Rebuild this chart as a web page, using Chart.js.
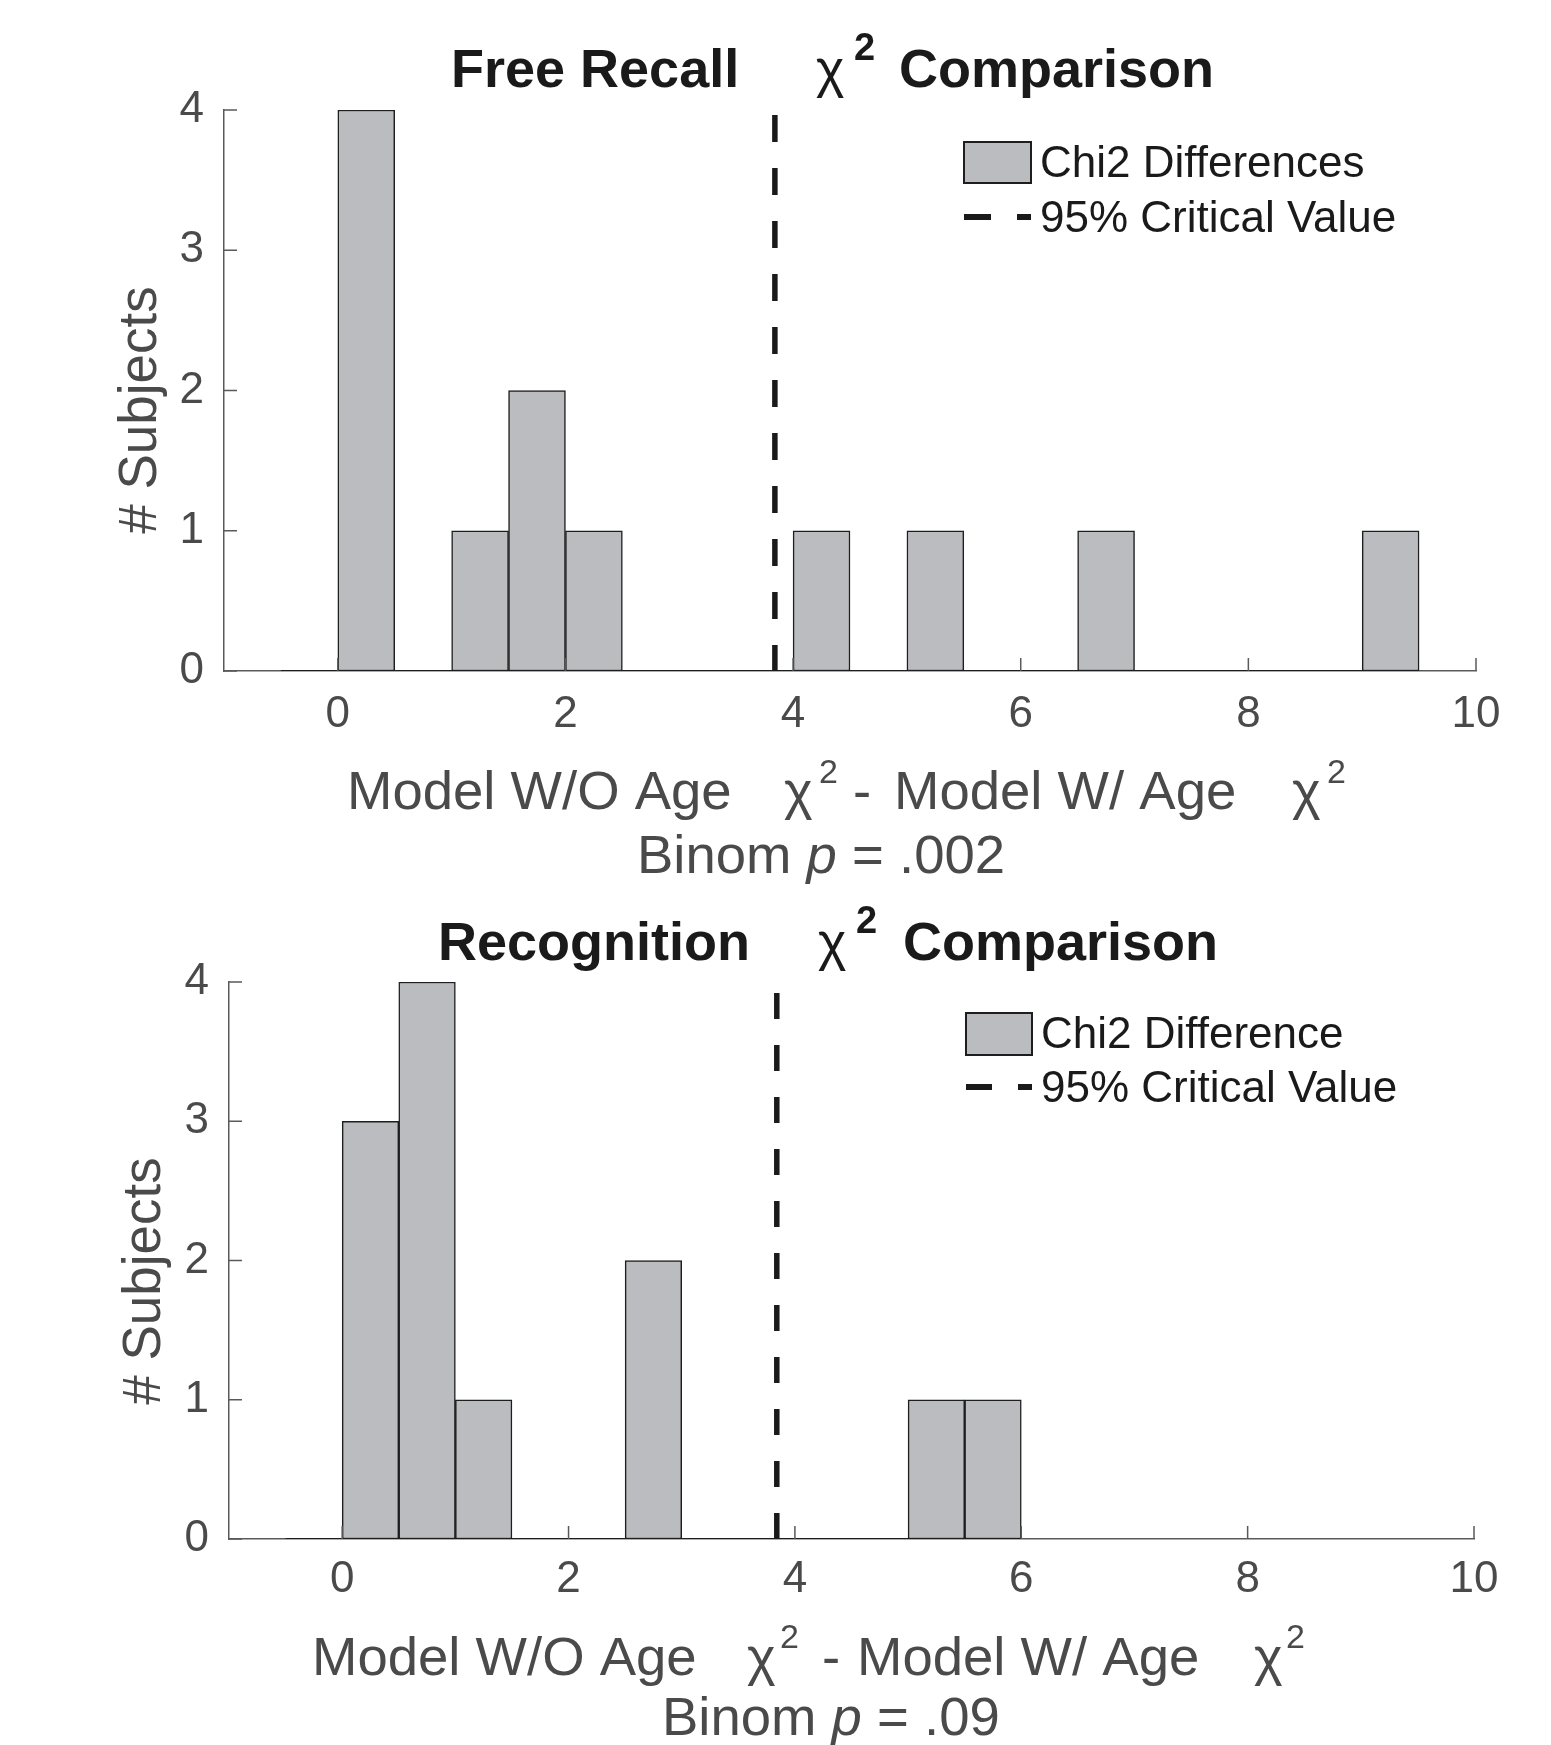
<!DOCTYPE html>
<html>
<head>
<meta charset="utf-8">
<script src="https://cdn.jsdelivr.net/npm/chart.js@4.4.0/dist/chart.umd.min.js"></script>
<style>
    body { margin: 0; background: #fff; }
    canvas { display: block; }
</style>
</head>
<body>
<canvas id="recallChart" width="1551" height="900"></canvas>
<canvas id="recognitionChart" width="1551" height="845"></canvas>
<script>
// Histogram data, bins are 0.5 wide
const binWidth = 0.5;
const recallBins = [-0.25, 0.25, 0.75, 1.25, 1.75, 2.25, 2.75, 3.25, 3.75, 4.25, 4.75, 5.25, 5.75, 6.25, 6.75, 7.25, 7.75, 8.25, 8.75, 9.25];
const recallCounts = [0, 4, 0, 1, 2, 1, 0, 0, 0, 1, 0, 1, 0, 0, 1, 0, 0, 0, 0, 1];
const recognitionBins = [-0.25, 0.25, 0.75, 1.25, 1.75, 2.25, 2.75, 3.25, 3.75, 4.25, 4.75, 5.25, 5.75];
const recognitionCounts = [0, 3, 4, 1, 0, 0, 2, 0, 0, 0, 0, 1, 1];
const criticalValue = 3.84;
const xTickValues = [0, 2, 4, 6, 8, 10];
const yTickValues = [0, 1, 2, 3, 4];
const xRange = [-1, 10];
const yRange = [0, 4];

const FONT = "'Liberation Sans', Arial, Helvetica, sans-serif";
const barFill = '#bbbcc0';
const barEdge = '#1e1e1e';
const axisGray = '#5a5a5a';
const labelGray = '#4a4a4a';
const ink = '#1a1a1a';

Chart.defaults.font.family = FONT;

function font(size, style) {
    return (style ? style + ' ' : '') + size + 'px ' + FONT;
}

// draws a list of text pieces; x < 0 means "continue after previous piece"
function drawRuns(ctx, runs, color) {
    let cursor = 0;
    runs.forEach(r => {
        ctx.font = r.f;
        ctx.fillStyle = color;
        ctx.textAlign = 'left';
        ctx.textBaseline = 'alphabetic';
        const x = r.x >= 0 ? r.x : cursor;
        ctx.fillText(r.t, x, r.y);
        cursor = x + ctx.measureText(r.t).width;
    });
}

function figurePlugin(layout) {
    return {
        id: 'figureText',
        afterDatasetsDraw(chart) {
            // inward tick marks like MATLAB
            const { ctx, chartArea: a, scales: { x, y } } = chart;
            ctx.save();
            ctx.strokeStyle = axisGray;
            ctx.lineWidth = 1.5;
            ctx.beginPath();
            x.ticks.forEach(t => {
                const px = x.getPixelForValue(t.value);
                ctx.moveTo(px, a.bottom);
                ctx.lineTo(px, a.bottom - 13);
            });
            y.ticks.forEach(t => {
                const py = y.getPixelForValue(t.value);
                ctx.moveTo(a.left, py);
                ctx.lineTo(a.left + 13, py);
            });
            ctx.stroke();
            ctx.restore();
        },
        afterDraw(chart) {
            const ctx = chart.ctx;
            const bars = chart.data.datasets[0];
            const crit = chart.data.datasets[2];
            ctx.save();

            // title
            drawRuns(ctx, layout.title, ink);

            // legend
            const lg = layout.legend;
            ctx.fillStyle = bars.backgroundColor;
            ctx.fillRect(lg.x, lg.top, lg.w, lg.h);
            ctx.strokeStyle = barEdge;
            ctx.lineWidth = 2;
            ctx.strokeRect(lg.x, lg.top, lg.w, lg.h);
            ctx.beginPath();
            ctx.setLineDash(crit.borderDash);
            ctx.lineWidth = 6;
            ctx.strokeStyle = crit.borderColor;
            ctx.moveTo(lg.x, lg.dashY);
            ctx.lineTo(lg.x + lg.w, lg.dashY);
            ctx.stroke();
            ctx.setLineDash([]);
            drawRuns(ctx, [
                { t: bars.label, x: lg.textX, y: lg.y1, f: font(44) },
                { t: crit.label, x: lg.textX, y: lg.y2, f: font(44) }
            ], ink);

            // x axis title and binomial line
            drawRuns(ctx, layout.xTitle, labelGray);
            drawRuns(ctx, layout.binom, labelGray);

            // y axis title
            ctx.translate(layout.yTitle.x, layout.yTitle.y);
            ctx.rotate(-Math.PI / 2);
            ctx.font = font(53);
            ctx.fillStyle = labelGray;
            ctx.textAlign = 'center';
            ctx.textBaseline = 'middle';
            ctx.fillText('# Subjects', 0, 0);
            ctx.restore();
        }
    };
}

function makeHistogram(canvasId, bins, counts, legendLabel, layout) {
    const ctx = document.getElementById(canvasId).getContext('2d');
    const canvas = ctx.canvas;
    const firstEdge = bins[0] - binWidth / 2;
    const lastEdge = bins[bins.length - 1] + binWidth / 2;

    return new Chart(ctx, {
        type: 'bar',
        data: {
            datasets: [
                {
                    type: 'bar',
                    label: legendLabel,
                    data: bins.map((b, i) => ({ x: b, y: counts[i] })),
                    backgroundColor: barFill,
                    borderColor: barEdge,
                    borderWidth: 1.5,
                    borderSkipped: false,
                    barPercentage: 1,
                    categoryPercentage: 1,
                    order: 2
                },
                {
                    type: 'line',
                    label: 'baseline',
                    data: [{ x: firstEdge, y: 0 }, { x: lastEdge, y: 0 }],
                    borderColor: barEdge,
                    borderWidth: 2,
                    pointRadius: 0,
                    order: 1
                },
                {
                    type: 'line',
                    label: '95% Critical Value',
                    data: [{ x: criticalValue, y: yRange[1] }, { x: criticalValue, y: yRange[0] }],
                    borderColor: ink,
                    borderWidth: 5.5,
                    borderDash: layout.dash,
                    borderDashOffset: layout.dashOffset,
                    pointRadius: 0,
                    order: 0
                }
            ]
        },
        options: {
            responsive: false,
            animation: false,
            events: [],
            devicePixelRatio: 1,
            layout: {
                padding: { left: 0, top: layout.area.top, right: canvas.width - layout.area.right, bottom: 0 }
            },
            plugins: {
                legend: { display: false },
                tooltip: { enabled: false },
                title: { display: false }
            },
            scales: {
                x: {
                    type: 'linear',
                    min: xRange[0],
                    max: xRange[1],
                    offset: false,
                    grid: { display: false, drawTicks: false },
                    border: { display: true, color: axisGray, width: 1.5 },
                    ticks: {
                        color: labelGray,
                        font: { size: 44 },
                        padding: layout.xTickPad,
                        maxRotation: 0,
                        autoSkip: false
                    },
                    afterBuildTicks: s => { s.ticks = xTickValues.map(v => ({ value: v })); },
                    afterFit: s => { s.height = canvas.height - layout.area.bottom; }
                },
                y: {
                    min: yRange[0],
                    max: yRange[1],
                    grid: { display: false, drawTicks: false },
                    border: { display: true, color: axisGray, width: 1.5 },
                    ticks: {
                        color: labelGray,
                        font: { size: 44 },
                        padding: 20
                    },
                    afterBuildTicks: s => { s.ticks = yTickValues.map(v => ({ value: v })); },
                    afterFit: s => { s.width = layout.area.left; }
                }
            }
        },
        plugins: [figurePlugin(layout)]
    });
}

const recallLayout = {
    area: { left: 224, right: 1476, top: 110, bottom: 671 },
    xTickPad: 17,
    dash: [27, 26],
    dashOffset: 48,
    title: [
        { t: 'Free Recall', x: 451, y: 87, f: font(54, 'bold') },
        { t: 'χ', x: 816, y: 87, f: font(54) },
        { t: '2', x: 854, y: 60, f: font(38, 'bold') },
        { t: 'Comparison', x: 899, y: 87, f: font(54, 'bold') }
    ],
    legend: { x: 964, top: 142, w: 67, h: 41, textX: 1040, y1: 177, dashY: 217, y2: 232 },
    xTitle: [
        { t: 'Model W/O Age', x: 347, y: 809, f: font(54.5) },
        { t: 'χ', x: 784, y: 809, f: font(54.5) },
        { t: '2', x: 819, y: 783, f: font(34) },
        { t: '-', x: 853, y: 809, f: font(54.5) },
        { t: 'Model W/ Age', x: 894, y: 809, f: font(54.5) },
        { t: 'χ', x: 1292, y: 809, f: font(54.5) },
        { t: '2', x: 1327, y: 783, f: font(34) }
    ],
    binom: [
        { t: 'Binom ', x: 637, y: 873, f: font(54.5) },
        { t: 'p', x: -1, y: 873, f: font(54.5, 'italic') },
        { t: ' = .002', x: -1, y: 873, f: font(54.5) }
    ],
    yTitle: { x: 141, y: 410 }
};

const recognitionLayout = {
    area: { left: 229, right: 1474, top: 82, bottom: 639 },
    xTickPad: 14.5,
    dash: [26, 26],
    dashOffset: 41,
    title: [
        { t: 'Recognition', x: 438, y: 60, f: font(54, 'bold') },
        { t: 'χ', x: 818, y: 60, f: font(54) },
        { t: '2', x: 856, y: 33, f: font(38, 'bold') },
        { t: 'Comparison', x: 903, y: 60, f: font(54, 'bold') }
    ],
    legend: { x: 966, top: 113, w: 66, h: 42, textX: 1041, y1: 148, dashY: 187, y2: 202 },
    xTitle: [
        { t: 'Model W/O Age', x: 312, y: 775, f: font(54.5) },
        { t: 'χ', x: 747, y: 775, f: font(54.5) },
        { t: '2', x: 780, y: 748, f: font(34) },
        { t: '-', x: 822, y: 775, f: font(54.5) },
        { t: 'Model W/ Age', x: 857, y: 775, f: font(54.5) },
        { t: 'χ', x: 1254, y: 775, f: font(54.5) },
        { t: '2', x: 1286, y: 748, f: font(34) }
    ],
    binom: [
        { t: 'Binom ', x: 662, y: 835, f: font(54.5) },
        { t: 'p', x: -1, y: 835, f: font(54.5, 'italic') },
        { t: ' = .09', x: -1, y: 835, f: font(54.5) }
    ],
    yTitle: { x: 145, y: 381 }
};

makeHistogram('recallChart', recallBins, recallCounts, 'Chi2 Differences', recallLayout);
makeHistogram('recognitionChart', recognitionBins, recognitionCounts, 'Chi2 Difference', recognitionLayout);
</script>
</body>
</html>
